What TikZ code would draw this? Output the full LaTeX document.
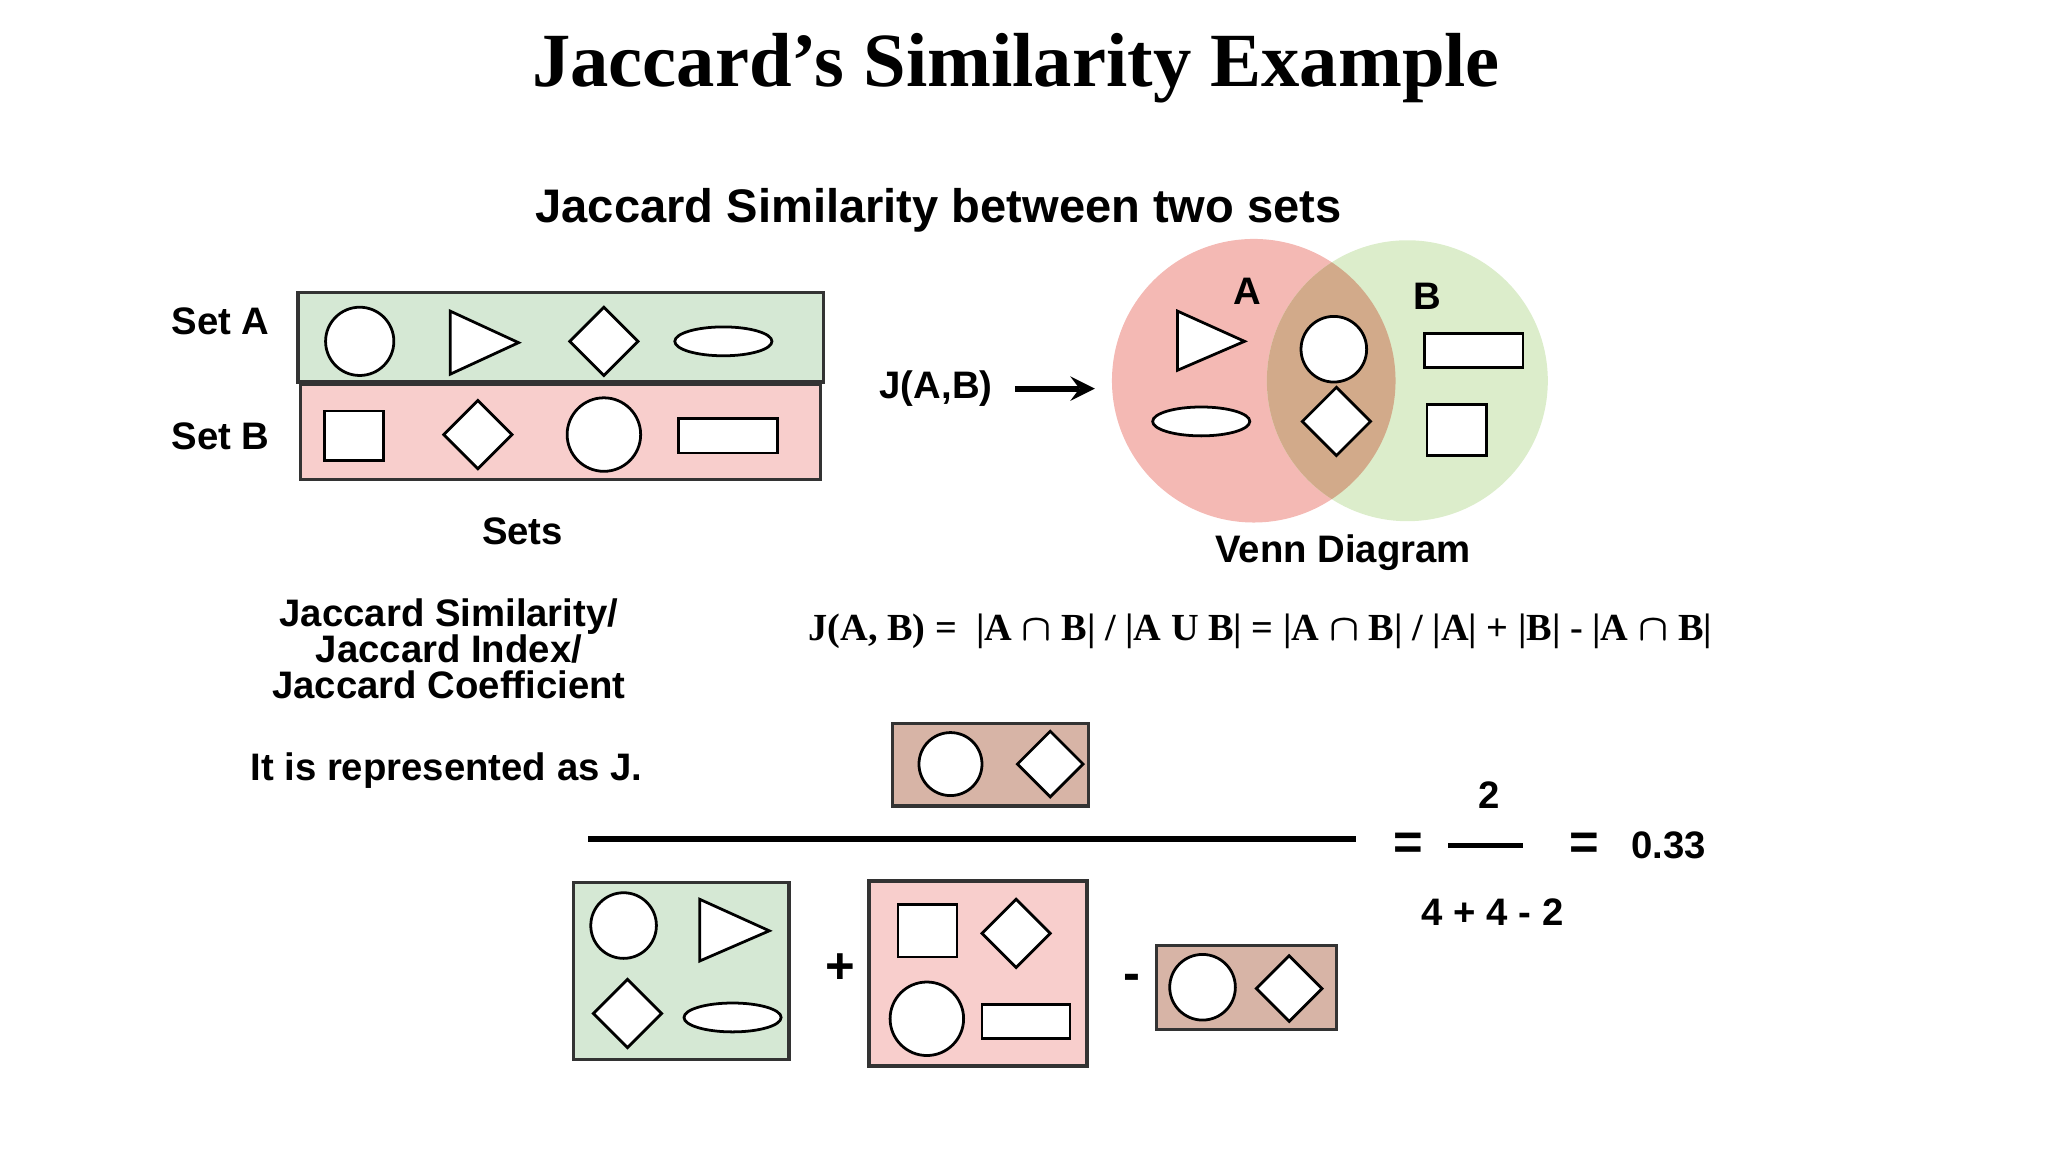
\documentclass[tikz,border=0pt]{standalone}
\usepackage{fontspec}
\setmainfont{Liberation Serif}
\setsansfont{Liberation Sans}
\begin{document}
\begin{tikzpicture}[x=0.01cm,y=-0.01cm,
  sh/.style={draw=black,line width=0.6pt,fill=white},
  bx/.style={draw=black!80,line width=0.7pt},
  lbl/.style={font=\sffamily\bfseries\fontsize{8.3}{9}\selectfont,inner sep=0pt},
  fm/.style={font=\bfseries\boldmath\fontsize{8.3}{9}\selectfont,inner sep=0pt}]
\definecolor{gA}{HTML}{D5E8D4}
\definecolor{pB}{HTML}{F8CECC}
\definecolor{tan}{HTML}{D7B4A6}
\definecolor{vA}{HTML}{F4B9B4}
\definecolor{vB}{HTML}{DCEDCB}
\definecolor{vAB}{HTML}{D2AA8A}
\useasboundingbox (0,0) rectangle (1560,878);
\node[font=\bfseries\fontsize{16.6}{18}\selectfont] (title) at (774,52) {Jaccard’s Similarity Example};
\node[lbl,font=\sffamily\bfseries\fontsize{10.2}{10}\selectfont] (sub) at (715,160) {Jaccard Similarity between two sets};
% sets
\node[lbl] (la) at (168,245) {Set A};
\node[lbl] (lb) at (168,332) {Set B};
\draw[bx,fill=gA] (227,223) rectangle (627,291);
\draw[bx,fill=pB] (229,293) rectangle (625,365);
\draw[sh] (274,260) circle (26);
\draw[sh] (343,237) -- (343,285) -- (395,261) -- cycle;
\draw[sh] (460,234) -- (486,260) -- (460,286) -- (434,260) -- cycle;
\draw[sh] (551,260) ellipse (37 and 11);
\draw[sh] (247,313) rectangle (292,351);
\draw[sh] (364,305) -- (390,331) -- (364,357) -- (338,331) -- cycle;
\draw[sh] (460,331) circle (28);
\draw[sh] (517,319) rectangle (592,345);
\node[lbl] (sets) at (398,405) {Sets};
% venn
\node[lbl] (jab) at (713,296) {J(A,B)};
\coordinate (a1) at (773,296);
\coordinate (a2) at (834,296);
\draw[-stealth,line width=1.3pt] (a1) -- (a2);
\fill[vA] (955,290) circle (108);
\fill[vB] (1072,290) circle (107);
\begin{scope}
\clip (955,290) circle (108);
\fill[vAB] (1072,290) circle (107);
\end{scope}
\node[lbl] (A) at (950,222) {A};
\node[lbl] (B) at (1087,226) {B};
\draw[sh] (897,237) -- (897,282) -- (948,260) -- cycle;
\draw[sh] (915,321) ellipse (37 and 11);
\draw[sh] (1016,266) circle (25);
\draw[sh] (1018,295) -- (1044,321) -- (1018,347) -- (992,321) -- cycle;
\draw[sh] (1085,254) rectangle (1160,280);
\draw[sh] (1087,308) rectangle (1132,347);
\node[lbl] (vd) at (1023,421) {Venn Diagram};
% left text
\node[lbl,align=center] (jsim) at (342,494) {Jaccard Similarity/\\[-1.2pt]Jaccard Index/\\[-1.2pt]Jaccard Coefficient};
\node[lbl] (rep) at (340,587) {It is represented as J.};
\node[fm] (form) at (960,481) {J(A, B) =\ \ |A $\cap$ B| / |A U B| = |A $\cap$ B| / |A| + |B| - |A $\cap$ B|};
% fraction
\draw[bx,fill=tan] (680,551) rectangle (829,614);
\draw[sh] (724,582) circle (24);
\draw[sh] (800,557) -- (825,582) -- (800,607) -- (775,582) -- cycle;
\coordinate (f1) at (448,639); \coordinate (f2) at (1033,639);
\draw[line width=1.2pt] (f1) -- (f2);
\node[lbl,font=\sffamily\bfseries\fontsize{11}{12}\selectfont] (eq1) at (1073,645) {=};
\node[lbl] (two) at (1134,606) {2};
\coordinate (s1) at (1103,644); \coordinate (s2) at (1160,644);
\draw[line width=1.2pt] (s1) -- (s2);
\node[lbl,font=\sffamily\bfseries\fontsize{11}{12}\selectfont] (eq2) at (1207,645) {=};
\node[lbl] (res) at (1271,644) {0.33};
\node[lbl] (den) at (1137,695) {4 + 4 - 2};
\draw[bx,fill=gA] (437,672) rectangle (601,807);
\draw[sh] (475,705) circle (25);
\draw[sh] (533,685) -- (533,732) -- (586,709) -- cycle;
\draw[sh] (478,746) -- (504,772) -- (478,798) -- (452,772) -- cycle;
\draw[sh] (558,775) ellipse (37 and 11);
\node[lbl,font=\sffamily\bfseries\fontsize{11}{12}\selectfont] (plus) at (640,738) {+};
\draw[bx,fill=pB] (662,671) rectangle (828,812);
\draw[sh] (684,689) rectangle (729,729);
\draw[sh] (774,685) -- (800,711) -- (774,737) -- (748,711) -- cycle;
\draw[sh] (706,776) circle (28);
\draw[sh] (748,765) rectangle (815,791);
\node[lbl,font=\sffamily\bfseries\fontsize{11}{12}\selectfont] (minus) at (862,748) {-};
\draw[bx,fill=tan] (881,720) rectangle (1018,784);
\draw[sh] (916,752) circle (25);
\draw[sh] (982,728) -- (1007,753) -- (982,778) -- (957,753) -- cycle;
\end{tikzpicture}
\end{document}
